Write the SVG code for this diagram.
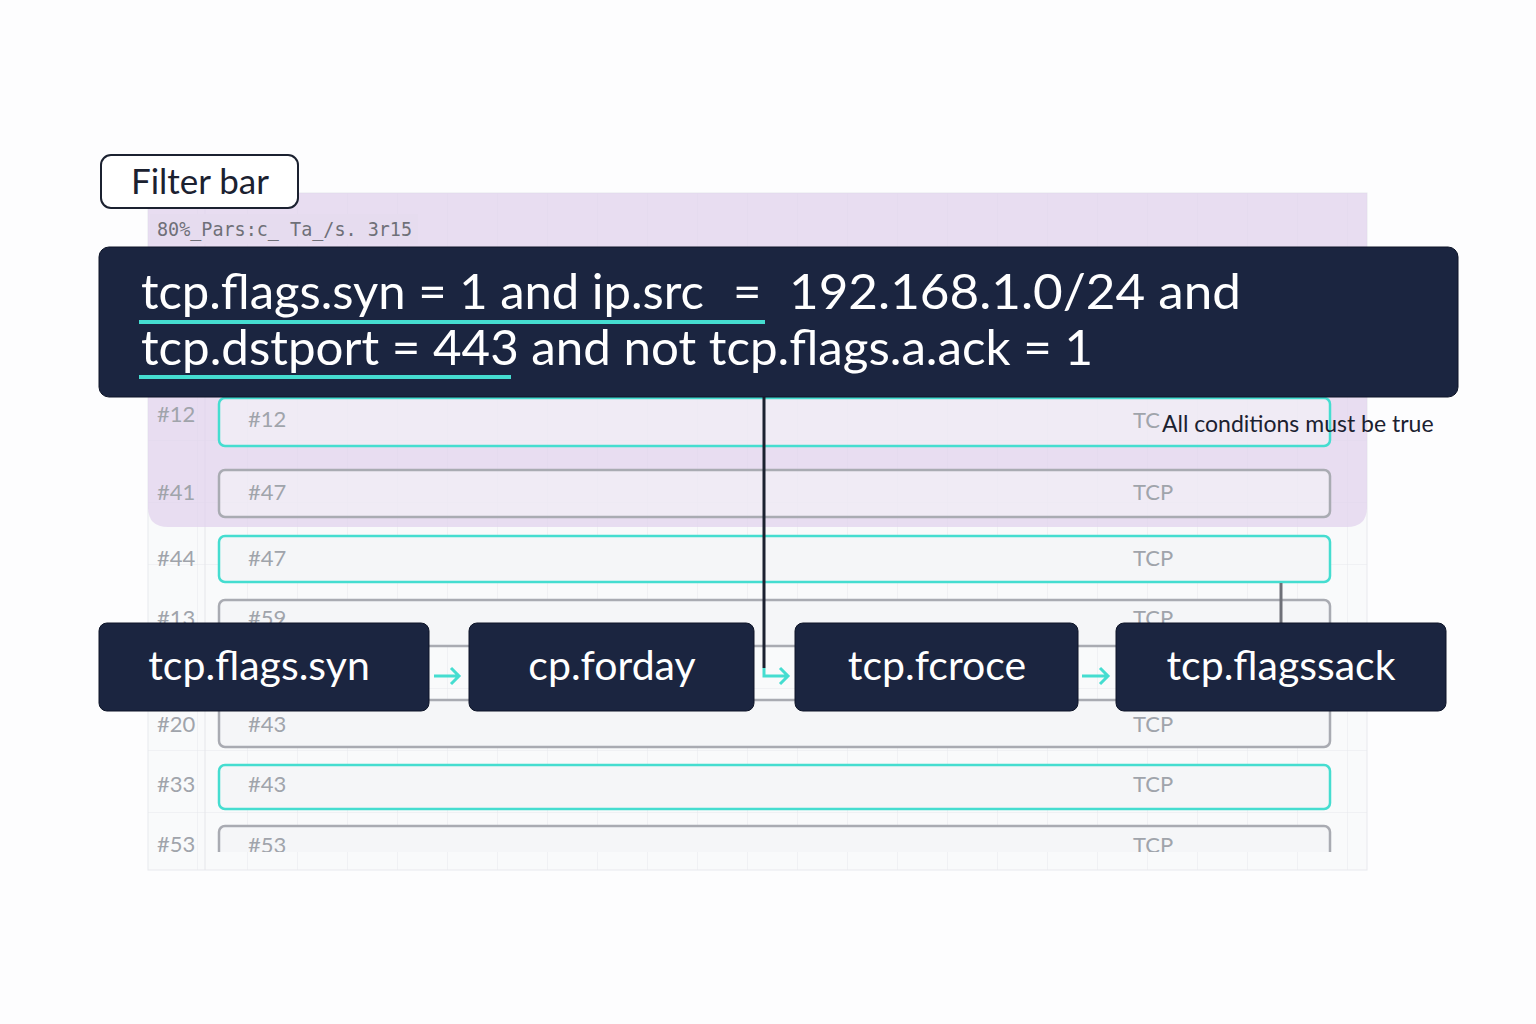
<svg xmlns="http://www.w3.org/2000/svg" width="1536" height="1024" viewBox="0 0 1536 1024">
<defs>
<style>
.sans{font-family:"Lato","Open Sans","Liberation Sans",sans-serif}
.mono{font-family:"DejaVu Sans Mono","Liberation Mono",monospace}
.row{fill:#f5f6f8;fill-opacity:0.55;stroke-width:2.5}
.teal{stroke:#45ddd0}
.grey{stroke:#a9abb2}
.rl{font-family:"Lato","Liberation Sans",sans-serif;font-size:22px;fill:#a0a4ab}
.node{fill:#1b2540;stroke:#0e1528;stroke-width:1}
.nt{font-family:"Lato","Open Sans","Liberation Sans",sans-serif;font-size:41px;fill:#fff}
.ex{font-family:"Lato","Open Sans","Liberation Sans",sans-serif;font-size:49px;fill:#fff}
.ar{stroke:#45ddd0;stroke-width:3;fill:none}
</style>
<pattern id="grid" x="148" y="193" width="50" height="62" patternUnits="userSpaceOnUse">
<path d="M50 0V62M0 62H50" stroke="#e7e8ec" stroke-width="1" fill="none"/>
</pattern>
<clipPath id="tbl"><rect x="148" y="193" width="1219" height="659"/></clipPath>
</defs>
<rect width="1536" height="1024" fill="#fdfdfe"/>
<g id="table">
<rect x="148" y="193" width="1219" height="677" fill="#f9fafb" stroke="#e8e9ed"/>
<rect x="148" y="193" width="1219" height="677" fill="url(#grid)"/>
<line x1="205" y1="193" x2="205" y2="870" stroke="#e5e6ea"/>
<path d="M148 193H1367V507Q1367 527 1347 527H168Q148 527 148 507Z" fill="#e2d3ee" opacity="0.75"/>
<rect x="150" y="214" width="268" height="30" fill="#e6dcef"/>
<text x="157" y="236" class="mono" font-size="20" fill="#6f7078" textLength="255" lengthAdjust="spacingAndGlyphs">80%_Pars:c_ Ta_/s. 3r15</text>
<g clip-path="url(#tbl)">
<rect class="row teal" x="219" y="398" width="1111" height="48" rx="6"/>
<rect class="row grey" x="219" y="470" width="1111" height="47" rx="6"/>
<rect class="row teal" x="219" y="536" width="1111" height="46" rx="6" style="fill-opacity:1"/>
<rect class="row grey" x="219" y="600" width="1111" height="46" rx="6" style="fill-opacity:1"/>
<rect class="row grey" x="219" y="700" width="1111" height="47" rx="6" style="fill-opacity:1"/>
<rect class="row teal" x="219" y="765" width="1111" height="44" rx="6" style="fill-opacity:1"/>
<rect class="row grey" x="219" y="826" width="1111" height="46" rx="6" style="fill-opacity:1"/>
<text class="rl" x="157" y="422">#12</text><text class="rl" x="248" y="427">#12</text><text class="rl" x="1133" y="428">TC</text>
<text class="rl" x="157" y="500">#41</text><text class="rl" x="248" y="500">#47</text><text class="rl" x="1133" y="500">TCP</text>
<text class="rl" x="157" y="566">#44</text><text class="rl" x="248" y="566">#47</text><text class="rl" x="1133" y="566">TCP</text>
<text class="rl" x="157" y="626">#13</text><text class="rl" x="248" y="626">#59</text><text class="rl" x="1133" y="626">TCP</text>
<text class="rl" x="157" y="732">#20</text><text class="rl" x="248" y="732">#43</text><text class="rl" x="1133" y="732">TCP</text>
<text class="rl" x="157" y="792">#33</text><text class="rl" x="248" y="792">#43</text><text class="rl" x="1133" y="792">TCP</text>
<text class="rl" x="157" y="852">#53</text><text class="rl" x="248" y="853">#53</text><text class="rl" x="1133" y="853">TCP</text>
</g>
</g>
<g id="filter-bar-label">
<rect x="101" y="155" width="197" height="53" rx="10" fill="#fff" stroke="#1b2130" stroke-width="2"/>
<text x="200" y="194" text-anchor="middle" class="sans" font-size="35" fill="#1b2130">Filter bar</text>
</g>
<g id="connectors">
<line x1="764" y1="397" x2="764" y2="668" stroke="#1b2130" stroke-width="3"/>
<line x1="1281" y1="583" x2="1281" y2="623" stroke="#6e7078" stroke-width="3"/>
<path class="ar" d="M434 676H459M451 668L459 676L451 684"/>
<path class="ar" d="M764 668V676H788M780 668L788 676L780 684"/>
<path class="ar" d="M1082 676H1108M1100 668L1108 676L1100 684"/>
</g>
<g id="filter-expression">
<rect class="node" x="99" y="247" width="1359" height="150" rx="10"/>
<text class="ex" x="141" y="309" textLength="563" lengthAdjust="spacingAndGlyphs">tcp.flags.syn = 1 and ip.src</text>
<text class="ex" x="733" y="309">=</text>
<text class="ex" x="789" y="309" textLength="452" lengthAdjust="spacingAndGlyphs">192.168.1.0/24 and</text>
<text class="ex" x="141" y="365" textLength="952" lengthAdjust="spacingAndGlyphs">tcp.dstport = 443 and not tcp.flags.a.ack = 1</text>
<line x1="139" y1="322" x2="765" y2="322" stroke="#45ddd0" stroke-width="4"/>
<line x1="139" y1="377" x2="511" y2="377" stroke="#45ddd0" stroke-width="4"/>
</g>
<text id="note" x="1162" y="432" class="sans" font-size="23" fill="#1b2130">All conditions must be true</text>
<g id="n1"><rect class="node" x="99" y="623" width="330" height="88" rx="8"/><text class="nt" x="259" y="680" text-anchor="middle">tcp.flags.syn</text></g>
<g id="n2"><rect class="node" x="469" y="623" width="285" height="88" rx="8"/><text class="nt" x="612" y="680" text-anchor="middle">cp.forday</text></g>
<g id="n3"><rect class="node" x="795" y="623" width="283" height="88" rx="8"/><text class="nt" x="937" y="680" text-anchor="middle">tcp.fcroce</text></g>
<g id="n4"><rect class="node" x="1116" y="623" width="330" height="88" rx="8"/><text class="nt" x="1281" y="680" text-anchor="middle">tcp.flagssack</text></g>
</svg>
